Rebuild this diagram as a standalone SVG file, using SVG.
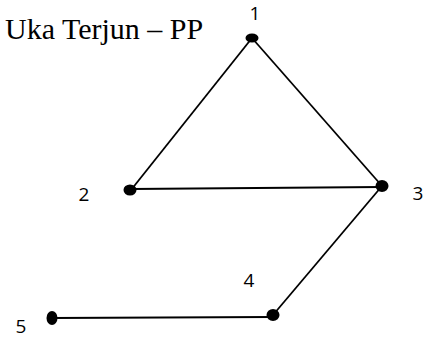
<svg xmlns="http://www.w3.org/2000/svg" width="427" height="339" viewBox="0 0 427 339">
<style>
.lbl{font-family:"Open Sans","Liberation Sans",sans-serif;font-size:19px;fill:#000}
.title{font-family:"Liberation Serif","Times New Roman",serif;font-size:30px;fill:#000}
.edge{stroke:#000;stroke-width:1.8;fill:none}
.dot{fill:#000}
</style>
<rect width="427" height="339" fill="#fff"/>
<text class="title" x="5" y="39">Uka Terjun – PP</text>
<g id="connectors">
<line class="edge" x1="252" y1="38" x2="131" y2="190"/>
<line class="edge" x1="252" y1="38" x2="382" y2="186"/>
<line class="edge" x1="131" y1="189" x2="382" y2="187"/>
<line class="edge" x1="382" y1="186" x2="273" y2="315"/>
<line class="edge" x1="52" y1="318" x2="273" y2="317"/>
</g>
<g id="node1"><ellipse class="dot" cx="252" cy="38" rx="6.5" ry="4.5"/><text class="lbl" x="255" y="20" text-anchor="middle">1</text></g>
<g id="node2"><ellipse class="dot" cx="130" cy="190" rx="6.5" ry="5.5"/><text class="lbl" x="84" y="201" text-anchor="middle">2</text></g>
<g id="node3"><ellipse class="dot" cx="382" cy="186" rx="6.5" ry="6"/><text class="lbl" x="418" y="200" text-anchor="middle">3</text></g>
<g id="node4"><ellipse class="dot" cx="273" cy="315" rx="6.5" ry="6"/><text class="lbl" x="249" y="287" text-anchor="middle">4</text></g>
<g id="node5"><ellipse class="dot" cx="52" cy="318" rx="5.5" ry="7"/><text class="lbl" x="21" y="333" text-anchor="middle">5</text></g>
</svg>
